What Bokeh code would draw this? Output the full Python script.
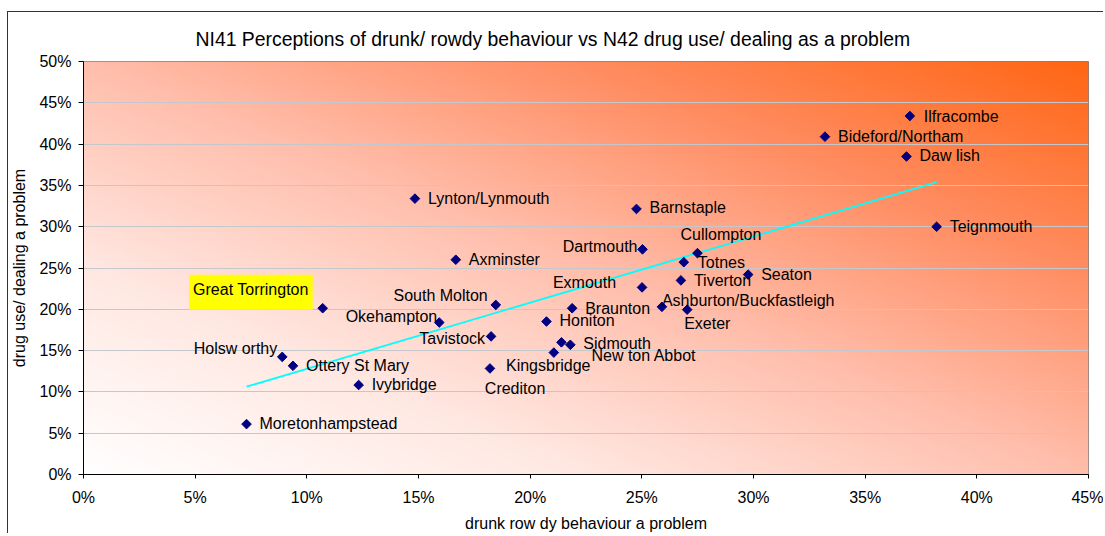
import numpy as np
from bokeh.plotting import figure
from bokeh.models import (NumeralTickFormatter, FixedTicker, ColumnDataSource, Range1d)
from bokeh.core.properties import value
from bokeh.embed import file_html
from bokeh.resources import INLINE

# ---------------- data ----------------
towns = ["Ilfracombe", "Bideford/Northam", "Daw lish", "Teignmouth", "Lynton/Lynmouth",
         "Barnstaple", "Dartmouth", "Cullompton", "Totnes", "Seaton", "Tiverton",
         "Exmouth", "Ashburton/Buckfastleigh", "Exeter", "Braunton", "Honiton",
         "Sidmouth", "New ton Abbot", "Crediton", "Kingsbridge", "Great Torrington",
         "South Molton", "Okehampton", "Tavistock", "Holsw orthy", "Ottery St Mary",
         "Ivybridge", "Moretonhampstead", "Axminster"]
drunk_rowdy = [0.370, 0.332, 0.3685, 0.382, 0.1484,
               0.2476, 0.2503, 0.2749, 0.2688, 0.2976, 0.2675,
               0.2501, 0.259, 0.2703, 0.2188, 0.2073,
               0.218, 0.214, 0.2106, 0.182, 0.1071,
               0.1846, 0.1593, 0.1825, 0.089, 0.0938,
               0.1232, 0.073, 0.1667]
drug_use = [0.434, 0.409, 0.385, 0.300, 0.334,
            0.3215, 0.2726, 0.268, 0.257, 0.242, 0.235,
            0.2265, 0.203, 0.1996, 0.2013, 0.1852,
            0.157, 0.160, 0.1476, 0.1284, 0.2013,
            0.2053, 0.184, 0.1672, 0.1424, 0.1316,
            0.1083, 0.061, 0.260]
highlight = "Great Torrington"

x_ticks = [0.0, 0.05, 0.10, 0.15, 0.20, 0.25, 0.30, 0.35, 0.40, 0.45]
y_ticks = [0.0, 0.05, 0.10, 0.15, 0.20, 0.25, 0.30, 0.35, 0.40, 0.45, 0.50]

title_text = "NI41 Perceptions of drunk/ rowdy behaviour vs N42 drug use/ dealing as a problem"
x_title = "drunk row dy behaviour a problem"
y_title = "drug use/ dealing a problem"

# ---------------- label layout (screen px offsets from marker) ----------------
label_layout = {
    "Ilfracombe": (14, 0, "left"), "Bideford/Northam": (13, 0, "left"),
    "Daw lish": (13, -1, "left"), "Teignmouth": (13, 0, "left"),
    "Lynton/Lynmouth": (13, 0, "left"), "Barnstaple": (13, -1, "left"),
    "Dartmouth": (-5, -3, "right"), "Cullompton": (-17, -19, "left"),
    "Totnes": (14, 0, "left"), "Seaton": (13, 0, "left"), "Tiverton": (13, 0, "left"),
    "Exmouth": (-26, -5, "right"), "Ashburton/Buckfastleigh": (0, -6, "left"),
    "Exeter": (-3, 14, "left"), "Braunton": (13, 0, "left"), "Honiton": (13, -1, "left"),
    "Sidmouth": (13, -1, "left"), "New ton Abbot": (30, 13, "left"),
    "Crediton": (-69, 36, "left"), "Kingsbridge": (16, -3, "left"),
    "South Molton": (-8, -9, "right"), "Okehampton": (-2, -6, "right"),
    "Tavistock": (-6, 2, "right"), "Holsw orthy": (-5, -8, "right"),
    "Ottery St Mary": (13, 0, "left"), "Ivybridge": (13, -1, "left"),
    "Moretonhampstead": (13, -1, "left"), "Axminster": (13, 0, "left"),
}

FONT = "Liberation Sans"
BL, BR, BT, BB = 75, 16, 49, 57
W, H = BL + 1005 + BR, BT + 416 + BB

p = figure(width=W, height=H, x_range=Range1d(0, 0.45), y_range=Range1d(0, 0.5),
           output_backend="svg", toolbar_location=None,
           min_border_left=BL, min_border_right=BR, min_border_top=BT, min_border_bottom=BB)
p.border_fill_color = "white"
p.outline_line_color = "#808080"
p.outline_line_width = 1
p.styles = {"margin-left": "7px", "margin-top": "11px",
            "border-left": "1px solid #333333", "border-top": "1px solid #333333"}

# title
p.title.text = title_text
p.title.align = "left"
p.title.offset = 112
p.title.standoff = 23
p.title.text_font = FONT
p.title.text_font_size = "19.4px"
p.title.text_font_style = "normal"
p.title.text_color = "black"

# gradient background (white bottom-left -> orange top-right)
nx, ny = 240, 200
u = np.linspace(0, 1, nx)[None, :]
v = np.linspace(0, 1, ny)[:, None]
t = (u + v) / 2.0
stops = [0.0, 0.25, 0.5, 0.75, 1.0]
rr = [255, 255, 255, 255, 255]
gg = [255, 232, 190, 140, 102]
bb = [255, 226, 172, 96, 20]
R = np.interp(t, stops, rr)
G = np.interp(t, stops, gg)
B = np.interp(t, stops, bb)
img = np.empty((ny, nx), dtype=np.uint32)
view = img.view(dtype=np.uint8).reshape((ny, nx, 4))
view[:, :, 0] = R.astype(np.uint8)
view[:, :, 1] = G.astype(np.uint8)
view[:, :, 2] = B.astype(np.uint8)
view[:, :, 3] = 255
p.image_rgba(image=[img], x=0, y=0, dw=0.45, dh=0.5, level="image")

# grid
p.xgrid.visible = False
p.ygrid.ticker = FixedTicker(ticks=y_ticks)
p.ygrid.grid_line_color = "#C4C8CC"
p.ygrid.grid_line_width = 1

# axes
p.xaxis.ticker = FixedTicker(ticks=x_ticks)
p.yaxis.ticker = FixedTicker(ticks=y_ticks)
p.xaxis.formatter = NumeralTickFormatter(format="0%")
p.yaxis.formatter = NumeralTickFormatter(format="0%")
for ax in (p.xaxis, p.yaxis):
    ax.axis_line_color = "black"
    ax.major_tick_line_color = "black"
    ax.minor_tick_line_color = None
    ax.major_tick_in = 0
    ax.major_label_text_font = FONT
    ax.major_label_text_font_size = "16px"
    ax.major_label_text_color = "black"
    ax.axis_label_text_font = FONT
    ax.axis_label_text_font_size = "16px"
    ax.axis_label_text_font_style = "normal"
    ax.axis_label_text_color = "black"
p.xaxis.major_tick_out = 4
p.yaxis.major_tick_out = 5
p.xaxis.major_label_standoff = 10
p.yaxis.major_label_standoff = 7
p.xaxis.axis_label = x_title
p.yaxis.axis_label = y_title
p.xaxis.axis_label_standoff = 6
p.yaxis.axis_label_standoff = 8

# trend line (least squares fit over the data)
xs = np.array(drunk_rowdy)
ys = np.array(drug_use)
k, b0 = np.polyfit(xs, ys, 1)
tx = np.array([xs.min(), xs.max()])
p.line(tx, k * tx + b0, line_color="#00FFFF", line_width=1.8)

# markers
p.scatter(drunk_rowdy, drug_use, marker="square", angle=np.pi / 4, size=6.8,
          fill_color="#000080", line_color="#000080")

# labels
lx, ly, lt, ldx, ldy, lal = [], [], [], [], [], []
for n, xv, yv in zip(towns, drunk_rowdy, drug_use):
    if n == highlight:
        continue
    dx, dy, al = label_layout[n]
    lx.append(xv); ly.append(yv); lt.append(n); ldx.append(dx); ldy.append(dy); lal.append(al)
src = ColumnDataSource(dict(x=lx, y=ly, text=lt, dx=ldx, dy=ldy, al=lal))
p.text(x="x", y="y", text="text", x_offset="dx", y_offset="dy", text_align="al",
       source=src, text_baseline="middle", text_font=value(FONT),
       text_font_size="16px", text_color="black")

hi = towns.index(highlight)
p.text(x=[drunk_rowdy[hi]], y=[drug_use[hi]], text=[highlight], x_offset=-10, y_offset=-16,
       text_align="right", text_baseline="middle", text_font=value(FONT),
       text_font_size="16px", text_color="black",
       background_fill_color="#FFFF00", padding=dict(left=4, right=4, top=6, bottom=12))

open("out.html", "w").write(file_html(p, INLINE))
